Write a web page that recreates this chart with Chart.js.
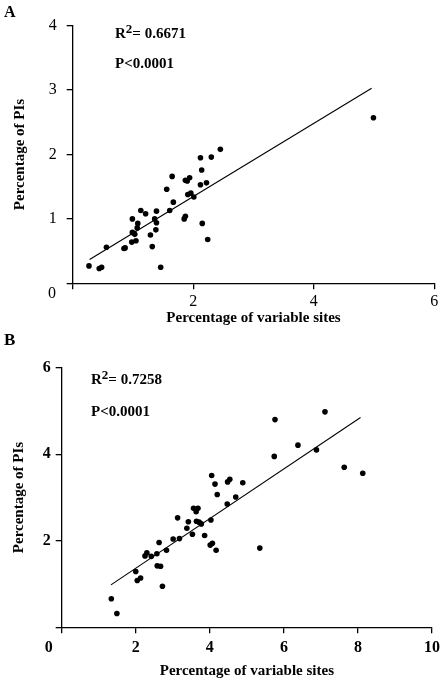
<!DOCTYPE html>
<html>
<head>
<meta charset="utf-8">
<script src="https://cdn.jsdelivr.net/npm/chart.js@4.4.1/dist/chart.umd.min.js"></script>
<style>
  body { margin: 0; background: #fff; }
  #wrap { position: relative; width: 445px; height: 683px; font-family: "Liberation Serif", "Times New Roman", serif; color: #000; }
  canvas { position: absolute; left: 0; }
  .txt { position: absolute; font-weight: bold; font-size: 15px; line-height: 15px; white-space: nowrap; }
  .sup { position: relative; top: -5px; font-size: 13px; }
</style>
</head>
<body>
<div id="wrap">
  <canvas id="chartA" width="445" height="330" style="top:0"></canvas>
  <canvas id="chartB" width="445" height="353" style="top:330px"></canvas>

  <div class="txt" style="left:4px; top:4px; font-size:16px;">A</div>
  <div class="txt" style="left:115px; top:26px;">R<span class="sup">2</span>= 0.6671</div>
  <div class="txt" style="left:115px; top:56px;">P&lt;0.0001</div>

  <div class="txt" style="left:4px; top:332px; font-size:17px;">B</div>
  <div class="txt" style="left:91px; top:372px;">R<span class="sup">2</span>= 0.7258</div>
  <div class="txt" style="left:91px; top:404px;">P&lt;0.0001</div>
</div>

<script>
// Panel A: percentage of variable sites vs percentage of PIs
const aSites = [0.27, 0.44, 0.48, 0.56, 0.85, 0.87, 0.99, 0.99, 1.03, 0.98, 1.05, 1.07, 1.08, 1.13, 1.21,
                1.29, 1.32, 1.36, 1.39, 1.39, 1.38, 1.46, 1.56, 1.61, 1.65, 1.67, 1.85, 1.87, 1.87, 1.90,
                1.94, 1.91, 1.96, 2.01, 2.12, 2.14, 2.12, 2.22, 2.15, 2.24, 2.30, 2.45, 4.99];
const aPIs   = [0.27, 0.23, 0.25, 0.56, 0.54, 0.55, 1.00, 0.79, 0.76, 0.64, 0.66, 0.86, 0.93, 1.13, 1.08,
                0.75, 0.57, 1.00, 1.12, 0.94, 0.83, 0.25, 1.46, 1.13, 1.66, 1.26, 1.00, 1.04, 1.60, 1.59,
                1.64, 1.38, 1.40, 1.34, 1.95, 1.76, 1.53, 1.56, 0.93, 0.68, 1.96, 2.08, 2.57];
const aTrendX = [0.28, 4.96];
const aTrendY = [0.37, 3.03];
const aTicksX = [0, 2, 4, 6];
const aTicksY = [0, 1, 2, 3, 4];

// Panel B
const bSites = [1.34, 1.49, 2.00, 2.04, 2.13, 2.25, 2.30, 2.42, 2.57, 2.63, 2.58, 2.67, 2.72, 2.83, 3.01,
                3.13, 3.18, 3.38, 3.42, 3.53, 3.56, 3.63, 3.63, 3.68, 3.64, 3.71, 3.77, 3.86, 4.03, 4.01,
                4.07, 4.17, 4.05, 4.14, 4.20, 4.47, 4.48, 4.54, 4.70, 4.89, 5.35, 5.74, 5.76, 6.38, 6.88,
                7.11, 7.63, 8.13];
const bPIs   = [0.66, 0.32, 1.29, 1.08, 1.14, 1.65, 1.72, 1.64, 1.70, 1.96, 1.42, 1.41, 0.95, 1.78, 2.04,
                2.53, 2.05, 2.29, 2.44, 2.15, 2.75, 2.73, 2.67, 2.75, 2.45, 2.43, 2.39, 2.12, 2.48, 1.90,
                1.94, 1.78, 3.51, 3.31, 3.07, 2.85, 3.36, 3.42, 3.01, 3.34, 1.83, 3.95, 4.80, 4.21, 4.10,
                4.98, 3.70, 3.56];
const bTrendX = [1.33, 8.07];
const bTrendY = [0.98, 4.85];
const bTicksX = [0, 2, 4, 6, 8, 10];
const bTicksY = [0, 2, 4, 6];

// the shared "0" sits in the corner between both axes
const cornerZero = {
  id: 'cornerZero',
  afterDraw(chart, args, opts) {
    const ctx = chart.ctx;
    const area = chart.chartArea;
    ctx.save();
    ctx.fillStyle = '#000';
    ctx.font = opts.font;
    ctx.textAlign = 'center';
    ctx.textBaseline = 'middle';
    ctx.fillText('0', area.left + opts.dx, area.bottom + opts.dy);
    ctx.restore();
  }
};

function makePanel(id, o) {
  const pts = o.xs.map((x, i) => ({ x: x, y: o.ys[i] }));
  const trend = o.trendX.map((x, i) => ({ x: x, y: o.trendY[i] }));
  const tickFont = { family: 'Liberation Serif', size: 16, weight: o.tickWeight };
  const titleFont = { family: 'Liberation Serif', size: 15, weight: 'bold' };
  const gridOpts = { drawOnChartArea: false, drawTicks: true, tickLength: 6, color: '#000', lineWidth: 1.3 };
  const hideZero = v => (v === 0 ? '' : v);

  return new Chart(document.getElementById(id), {
    type: 'scatter',
    data: {
      datasets: [
        { data: pts, pointRadius: 2.8, pointBackgroundColor: '#000', pointBorderWidth: 0 },
        { data: trend, showLine: true, borderColor: '#000', borderWidth: 1.1, pointRadius: 0 }
      ]
    },
    options: {
      responsive: false,
      animation: false,
      devicePixelRatio: 1,
      layout: { padding: { top: o.top, right: o.right, left: 0, bottom: 0 } },
      plugins: {
        legend: { display: false },
        tooltip: { enabled: false },
        cornerZero: { dx: o.zeroDx, dy: o.zeroDy, font: (o.tickWeight === 'bold' ? 'bold ' : '') + '16px "Liberation Serif"' }
      },
      scales: {
        x: {
          type: 'linear',
          min: o.ticksX[0],
          max: o.ticksX[o.ticksX.length - 1],
          afterBuildTicks: s => { s.ticks = o.ticksX.map(v => ({ value: v })); },
          afterFit: s => { s.height = o.xAxisH; },
          grid: gridOpts,
          border: { color: '#000', width: 1.3 },
          ticks: { color: '#000', font: tickFont, padding: o.xPad, maxRotation: 0, callback: hideZero },
          title: { display: true, text: 'Percentage of variable sites', color: '#000', font: titleFont,
                   padding: { top: 0, bottom: o.xTitlePad } }
        },
        y: {
          type: 'linear',
          min: o.ticksY[0],
          max: o.ticksY[o.ticksY.length - 1],
          afterBuildTicks: s => { s.ticks = o.ticksY.map(v => ({ value: v })); },
          afterFit: s => { s.width = o.yAxisW; },
          grid: gridOpts,
          border: { color: '#000', width: 1.3 },
          ticks: { color: '#000', font: tickFont, padding: o.yPad, callback: hideZero },
          title: { display: true, text: 'Percentage of PIs', color: '#000', font: titleFont,
                   padding: { top: o.yTitlePad, bottom: 0 } }
        }
      }
    },
    plugins: [cornerZero]
  });
}

makePanel('chartA', {
  xs: aSites, ys: aPIs, trendX: aTrendX, trendY: aTrendY, ticksX: aTicksX, ticksY: aTicksY,
  tickWeight: 'normal', top: 25.7, right: 10.7, xAxisH: 46.7, yAxisW: 72.7,
  xPad: 3, yPad: 10, xTitlePad: 3, yTitlePad: 11.5, zeroDx: -20.7, zeroDy: 10.5
});

makePanel('chartB', {
  xs: bSites, ys: bPIs, trendX: bTrendX, trendY: bTrendY, ticksX: bTicksX, ticksY: bTicksY,
  tickWeight: 'bold', top: 37.7, right: 10.7, xAxisH: 55.7, yAxisW: 61.7,
  xPad: 5, yPad: 5, xTitlePad: 2.4, yTitlePad: 10.5, zeroDx: -13, zeroDy: 20.7
});
</script>
</body>
</html>
